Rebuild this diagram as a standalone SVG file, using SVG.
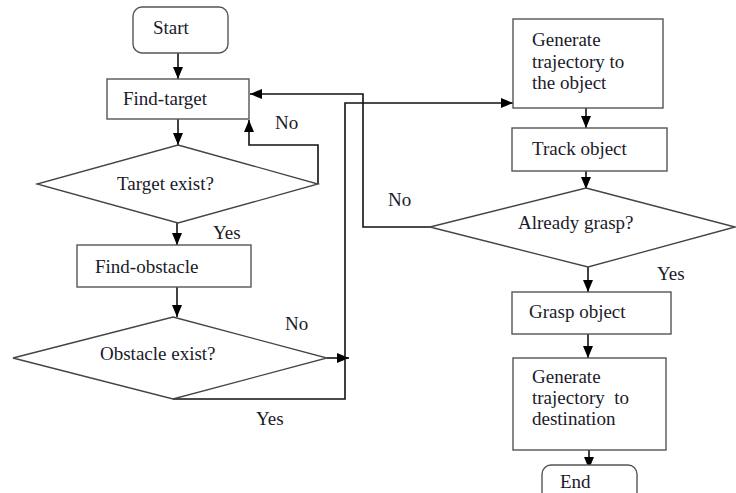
<svg xmlns="http://www.w3.org/2000/svg" width="736" height="493" viewBox="0 0 736 493">
<style>
.box{fill:#fff;stroke:#555;stroke-width:1.4}
.dia{fill:none;stroke:#444;stroke-width:1.3}
.t{font-family:'Times New Roman','Liberation Serif','DejaVu Serif','Noto Serif',serif;font-size:19px;fill:#1a1a2a}
.c{fill:none;stroke:#111;stroke-width:1.6}
</style>
<defs>
<marker id="ah" viewBox="0 0 12 10" refX="12" refY="5" markerWidth="12" markerHeight="10" markerUnits="userSpaceOnUse" orient="auto">
<path d="M0,0 L12,5 L0,10 Z" fill="#000"/>
</marker>
</defs>
<rect width="736" height="493" fill="#fff"/>
<g id="connectors">
<line class="c" x1="178" y1="53" x2="178" y2="79" marker-end="url(#ah)"/>
<line class="c" x1="178" y1="119" x2="178" y2="145" marker-end="url(#ah)"/>
<polyline class="c" points="318,184 318,145 249,145 249,120" marker-end="url(#ah)"/>
<line class="c" x1="177" y1="223" x2="177" y2="245" marker-end="url(#ah)"/>
<line class="c" x1="177" y1="287" x2="177" y2="317" marker-end="url(#ah)"/>
<line class="c" x1="327" y1="358" x2="349" y2="358" marker-end="url(#ah)"/>
<polyline class="c" points="173,399 345,399 345,103 513,103" marker-end="url(#ah)"/>
<polyline class="c" points="430,227 363,227 363,94 250,94" marker-end="url(#ah)"/>
<line class="c" x1="586" y1="108" x2="586" y2="128" marker-end="url(#ah)"/>
<line class="c" x1="586" y1="171" x2="586" y2="189" marker-end="url(#ah)"/>
<line class="c" x1="588" y1="267" x2="588" y2="292" marker-end="url(#ah)"/>
<line class="c" x1="588" y1="334" x2="588" y2="358" marker-end="url(#ah)"/>
<line class="c" x1="589" y1="450" x2="589" y2="469" marker-end="url(#ah)"/>
<text class="t" x="275" y="129">No</text>
<text class="t" x="213" y="239">Yes</text>
<text class="t" x="285" y="330">No</text>
<text class="t" x="256" y="425">Yes</text>
<text class="t" x="388" y="206">No</text>
<text class="t" x="657" y="280">Yes</text>
</g>
<g id="start">
<rect class="box" x="133" y="7" width="95" height="46" rx="9"/>
<text class="t" x="153" y="34">Start</text>
</g>
<g id="find-target">
<rect class="box" x="107" y="79" width="142" height="40"/>
<text class="t" x="123" y="105">Find-target</text>
</g>
<g id="target-exist">
<polygon class="dia" points="178,145 318,184 178,223 37,184"/>
<text class="t" x="117" y="190">Target exist?</text>
</g>
<g id="find-obstacle">
<rect class="box" x="77" y="245" width="174" height="42"/>
<text class="t" x="95" y="273">Find-obstacle</text>
</g>
<g id="obstacle-exist">
<polygon class="dia" points="173,317 327,358 173,399 13,358"/>
<text class="t" x="100" y="360">Obstacle exist?</text>
</g>
<g id="gen-traj-object">
<rect class="box" x="513" y="19" width="150" height="89"/>
<text class="t" x="532" y="46">Generate</text>
<text class="t" x="532" y="68">trajectory to</text>
<text class="t" x="532" y="89">the object</text>
</g>
<g id="track-object">
<rect class="box" x="512" y="128" width="155" height="43"/>
<text class="t" x="532" y="155">Track object</text>
</g>
<g id="already-grasp">
<polygon class="dia" points="586,188 735,227 588,267 430,227"/>
<text class="t" x="518" y="229">Already grasp?</text>
</g>
<g id="grasp-object">
<rect class="box" x="512" y="292" width="159" height="42"/>
<text class="t" x="529" y="318">Grasp object</text>
</g>
<g id="gen-traj-dest">
<rect class="box" x="513" y="358" width="153" height="92"/>
<text class="t" x="532" y="383">Generate</text>
<text class="t" x="532" y="404" xml:space="preserve">trajectory  to</text>
<text class="t" x="532" y="425">destination</text>
</g>
<g id="end">
<rect class="box" x="542" y="465" width="95" height="46" rx="9"/>
<text class="t" x="560" y="488">End</text>
</g>
</svg>
